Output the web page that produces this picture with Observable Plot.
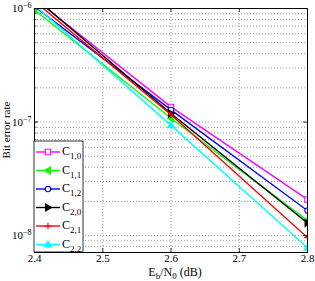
<!DOCTYPE html>
<html><head><meta charset="utf-8">
<script src="https://cdn.jsdelivr.net/npm/d3@7"></script>
<script src="https://cdn.jsdelivr.net/npm/@observablehq/plot@0.6"></script>
<style>body{margin:0;background:#fff} svg{display:block}</style>
</head><body><div id="chart"></div>
<script>
// ---- data ----
const ebn0 = [2.4, 2.6, 2.8];
const seriesNames = ["C1,0", "C1,1", "C1,2", "C2,0", "C2,1", "C2,2"];
const seriesSubs = ["1,0", "1,1", "1,2", "2,0", "2,1", "2,2"];
const C10 = [1.22e-6, 1.36e-7, 2.08e-8];
const C11 = [0.97e-6, 1.08e-7, 1.36e-8];
const C12 = [1.04e-6, 1.28e-7, 1.66e-8];
const C20 = [1.25e-6, 1.19e-7, 1.29e-8];
const C21 = [1.16e-6, 1.16e-7, 9.6e-9];
const C22 = [1.07e-6, 9.35e-8, 7.8e-9];
const seriesValues = [C10, C11, C12, C20, C21, C22];
const colors = ["#ff00ff", "#00ff00", "#0000ff", "#000000", "#ff0000", "#00ffff"];
const xTicks = [2.4, 2.5, 2.6, 2.7, 2.8];
const xTickLabels = ["2.4", "2.5", "2.6", "2.7", "2.8"];
const yTicks = [1e-8, 1e-7, 1e-6];
const yTickLabels = ["-8", "-7", "-6"];
const yGrid = [8e-9, 9e-9, 1e-8, 2e-8, 3e-8, 4e-8, 5e-8, 6e-8, 7e-8, 8e-8, 9e-8,
  1e-7, 2e-7, 3e-7, 4e-7, 5e-7, 6e-7, 7e-7, 8e-7, 9e-7, 1e-6];
const yDomain = [7.1e-9, 1e-6];
const xDomain = [2.4, 2.8];

// ---- symbols ----
const triLeft = {draw(ctx, size) { const r = Math.sqrt(size / Math.PI) * 1.15;
  ctx.moveTo(-r, 0); ctx.lineTo(r * 0.7, -r); ctx.lineTo(r * 0.7, r); ctx.closePath(); }};
const triRight = {draw(ctx, size) { const r = Math.sqrt(size / Math.PI) * 1.15;
  ctx.moveTo(r, 0); ctx.lineTo(-r * 0.7, -r); ctx.lineTo(-r * 0.7, r); ctx.closePath(); }};
const triUp = {draw(ctx, size) { const r = Math.sqrt(size / Math.PI) * 1.15;
  ctx.moveTo(0, -r); ctx.lineTo(r, r * 0.7); ctx.lineTo(-r, r * 0.7); ctx.closePath(); }};
const squareS = {draw(ctx, size) { const r = Math.sqrt(size / Math.PI) * 0.9;
  ctx.rect(-r, -r, 2 * r, 2 * r); }};
const circleS = {draw(ctx, size) { const r = Math.sqrt(size / Math.PI) * 0.9;
  ctx.moveTo(r, 0); ctx.arc(0, 0, r, 0, 2 * Math.PI); }};
const plusS = {draw(ctx, size) { const r = Math.sqrt(size / Math.PI) * 1.1;
  ctx.moveTo(-r, 0); ctx.lineTo(r, 0); ctx.moveTo(0, -r); ctx.lineTo(0, r); }};
const symbols = [squareS, triLeft, circleS, triRight, plusS, triUp];
const fills = ["white", "#00ff00", "white", "#000000", "none", "#00ffff"];

const W = 315, H = 281;
const mL = 34, mR = 8, mT = 8, mB = 29;
const pw = W - mL - mR, ph = H - mT - mB;

const marks = [
  Plot.gridX(xTicks, {stroke: "#999", strokeOpacity: 1, strokeDasharray: "1,2"}),
  Plot.gridY(yGrid, {stroke: "#999", strokeOpacity: 1, strokeDasharray: "1,2"}),
];
seriesValues.forEach((vals, i) => {
  const rows = ebn0.map((x, j) => ({x, y: vals[j]}));
  marks.push(Plot.lineY(rows, {x: "x", y: "y", stroke: colors[i], strokeWidth: 1.4, clip: true}));
  marks.push(Plot.dot(rows.filter(d => d.y <= yDomain[1]), {x: "x", y: "y", r: 3,
    symbol: symbols[i], stroke: colors[i], fill: fills[i], strokeWidth: 1.1, clip: true}));
});
marks.push(
  Plot.tickX(xTicks, {x: d => d, insetTop: ph - 4, stroke: "black", strokeWidth: 0.8}),
  Plot.tickX(xTicks, {x: d => d, insetBottom: ph - 4, stroke: "black", strokeWidth: 0.8}),
  Plot.tickY(yGrid, {y: d => d, insetRight: pw - 2.5, stroke: "black", strokeWidth: 0.6}),
  Plot.tickY(yTicks, {y: d => d, insetRight: pw - 4, stroke: "black", strokeWidth: 0.8}),
  Plot.tickY(yTicks, {y: d => d, insetLeft: pw - 4, stroke: "black", strokeWidth: 0.8}),
  Plot.frame({stroke: "black", strokeWidth: 1}),
  Plot.axisX(xTicks, {tickSize: 0, tickPadding: 2, tickFormat: d => xTickLabels[xTicks.indexOf(d)], fontSize: 11, label: null}),
  Plot.axisY(yTicks, {tickSize: 0, tickPadding: 3, tickFormat: d => "10^" + yTickLabels[yTicks.indexOf(d)], fontSize: 11, label: null})
);

const svg = Plot.plot({
  width: W, height: H,
  marginLeft: mL, marginRight: mR, marginTop: mT, marginBottom: mB,
  style: {fontFamily: "Liberation Serif", fontSize: "11px", background: "white", color: "black"},
  x: {domain: xDomain},
  y: {type: "log", domain: yDomain},
  marks
});

const s = d3.select(svg);
// superscript y tick labels
s.selectAll('g[aria-label="y-axis tick label"] text').each(function () {
  const t = d3.select(this);
  const txt = t.text();
  const exp = txt.split("^")[1];
  t.text("");
  t.append("tspan").text("10");
  t.append("tspan").attr("dy", "-0.5em").attr("font-size", "8px").text("−" + exp.replace("-", ""));
});

// axis titles
const xt = s.append("text").attr("x", 175).attr("y", 276).attr("text-anchor", "middle")
  .attr("font-family", "Liberation Serif").attr("font-size", 12);
xt.append("tspan").text("E");
xt.append("tspan").attr("font-size", 9).attr("dy", 3).text("b");
xt.append("tspan").attr("dy", -3).text("/N");
xt.append("tspan").attr("font-size", 9).attr("dy", 3).text("0");
xt.append("tspan").attr("dy", -3).text(" (dB)");

s.append("text").attr("transform", "translate(10,130) rotate(-90)").attr("text-anchor", "middle")
  .attr("font-family", "Liberation Serif").attr("font-size", 11).text("Bit error rate");

// legend
const lg = s.append("g");
lg.append("rect").attr("x", mL).attr("y", 141).attr("width", 49).attr("height", 252 - 141)
  .attr("fill", "white").attr("stroke", "black").attr("stroke-width", 0.8);
seriesNames.forEach((name, i) => {
  const y = 152 + i * 18.5;
  lg.append("line").attr("x1", 36).attr("x2", 60).attr("y1", y).attr("y2", y)
    .attr("stroke", colors[i]).attr("stroke-width", 1.4);
  lg.append("path").attr("transform", `translate(48,${y})`)
    .attr("d", d3.symbol(symbols[i], 9 * Math.PI)())
    .attr("stroke", colors[i]).attr("fill", fills[i]).attr("stroke-width", 1.1);
  const t = lg.append("text").attr("x", 62).attr("y", y + 3).attr("text-anchor", "start")
    .attr("font-family", "Liberation Serif").attr("font-size", 12);
  t.append("tspan").text("C");
  t.append("tspan").attr("font-size", 9).attr("dy", 4).text(seriesSubs[i]);
});

document.getElementById("chart").appendChild(svg);
</script>
</body></html>
